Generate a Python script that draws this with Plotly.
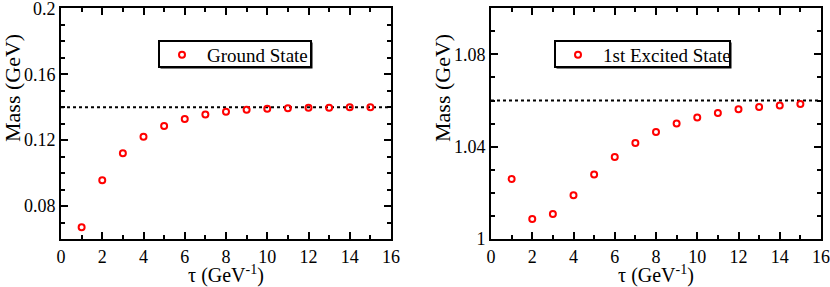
import plotly.graph_objects as go

tau = [1, 2, 3, 4, 5, 6, 7, 8, 9, 10, 11, 12, 13, 14, 15]
ground_mass = [0.0671, 0.0957, 0.1120, 0.1221, 0.1286, 0.1329, 0.1355, 0.1372,
               0.1384, 0.1390, 0.1394, 0.1396, 0.1397, 0.1399, 0.1400]
excited_mass = [1.0260, 1.0087, 1.0108, 1.0190, 1.0279, 1.0355, 1.0416, 1.0464,
                1.0501, 1.0527, 1.0546, 1.0562, 1.0572, 1.0579, 1.0585]
ground_ref = 0.14
excited_ref = 1.06
line_x = [0, 16]
x_title = "τ (GeV<sup>-1</sup>)"
y_title = "Mass (GeV)"

W, H = 830, 287
FONT = "Liberation Serif"

fig = go.Figure()

marker = dict(symbol="circle-open", size=6, color="red", line=dict(width=2, color="red"))

fig.add_trace(go.Scatter(x=line_x, y=[ground_ref, ground_ref], mode="lines",
                         line=dict(color="black", width=2, dash="dot"),
                         showlegend=False, xaxis="x", yaxis="y"))
fig.add_trace(go.Scatter(x=tau, y=ground_mass, mode="markers", marker=marker,
                         name="Ground State", legend="legend", xaxis="x", yaxis="y"))
fig.add_trace(go.Scatter(x=line_x, y=[excited_ref, excited_ref], mode="lines",
                         line=dict(color="black", width=2, dash="dot"),
                         showlegend=False, xaxis="x2", yaxis="y2"))
fig.add_trace(go.Scatter(x=tau, y=excited_mass, mode="markers", marker=marker,
                         name="1st Excited State", legend="legend2", xaxis="x2", yaxis="y2"))

def axis_common():
    return dict(showline=True, linecolor="black", linewidth=2, mirror="allticks",
                ticks="inside", ticklen=7, tickwidth=2, tickcolor="black",
                showgrid=False, zeroline=False, ticklabeloverflow="allow", automargin=False,
                tickfont=dict(family=FONT, size=18, color="black"),
                minor=dict(ticks="inside", ticklen=4, tickwidth=2, tickcolor="black", showgrid=False))

ydom = [1 - 239 / H, 1 - 8 / H]
xt = dict(text=x_title, font=dict(family=FONT, size=20, color="black"), standoff=3)

xa = axis_common(); xa.update(domain=[61 / W, 391 / W], range=[0, 16.0001], dtick=2, title=xt, anchor="y")
xa["minor"]["dtick"] = 1
ya = axis_common(); ya.update(domain=ydom, range=[0.06, 0.2002], tickvals=[0.08, 0.12, 0.16, 0.2],
                              ticktext=["0.08", "0.12", "0.16", "0.2"], anchor="x")
ya["minor"]["tickvals"] = [0.06 + 0.01 * i for i in range(15)]
xa2 = axis_common(); xa2.update(domain=[491 / W, 821 / W], range=[0, 16.0001], dtick=2, title=xt, anchor="y2")
xa2["minor"]["dtick"] = 1
ya2 = axis_common(); ya2.update(domain=ydom, range=[1.0, 1.1001], tickvals=[1.0, 1.04, 1.08],
                                ticktext=["1", "1.04", "1.08"], anchor="x2")
ya2["minor"]["tickvals"] = [1.0 + 0.01 * i for i in range(11)]

legend_style = dict(bgcolor="rgba(0,0,0,0)", borderwidth=0, itemwidth=40,
                    font=dict(family=FONT, size=19, color="black"),
                    xanchor="left", yanchor="middle", itemsizing="trace")

# legend frames (box with a small drop shadow), pixel positions converted to paper
def px_rect(x0, y0, x1, y1, **kw):
    return dict(type="rect", xref="paper", yref="paper", layer="below",
                x0=x0 / W, x1=x1 / W, y0=1 - y1 / H, y1=1 - y0 / H, **kw)

shapes = []
for (bx0, bx1) in [(159, 311), (555, 730)]:
    shapes.append(px_rect(bx0 + 1.5, 42.5, bx1 + 1.5, 68.5, fillcolor="black", line=dict(width=0)))
    shapes.append(px_rect(bx0, 41, bx1, 67, fillcolor="white", line=dict(color="black", width=2)))

annotations = [
    dict(text=y_title, xref="paper", yref="paper", x=13 / W, y=1 - 88 / H, textangle=-90,
         showarrow=False, xanchor="center", yanchor="middle",
         font=dict(family=FONT, size=22, color="black")),
    dict(text=y_title, xref="paper", yref="paper", x=443 / W, y=1 - 88 / H, textangle=-90,
         showarrow=False, xanchor="center", yanchor="middle",
         font=dict(family=FONT, size=22, color="black")),
]

fig.update_layout(
    width=W, height=H, margin=dict(l=0, r=0, t=0, b=0, autoexpand=False),
    paper_bgcolor="white", plot_bgcolor="white",
    font=dict(family=FONT),
    xaxis=xa, yaxis=ya, xaxis2=xa2, yaxis2=ya2,
    shapes=shapes, annotations=annotations,
    legend=dict(x=157 / W, y=1 - 55 / H, **legend_style),
    legend2=dict(x=553 / W, y=1 - 55 / H, **legend_style),
)

fig.write_html("out.html", config={"displayModeBar": False},
               post_script="document.body.style.margin='0';")
